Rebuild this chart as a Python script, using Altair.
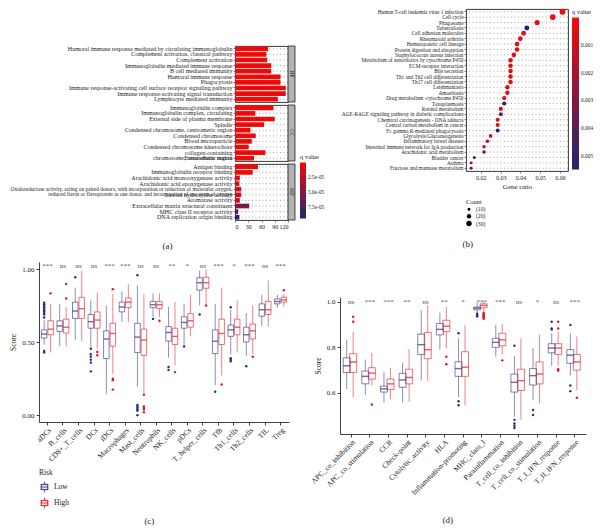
import altair as alt
import pandas as pd

FONT = "Liberation Serif"
LOW_COLOR = "#2c2f7f"
HIGH_COLOR = "#e3161e"
Q_RED, Q_NAVY = "#f50a0a", "#1e2670"
BOX_GLYPH = ("M-0.7,-0.55H0.7V0.55H-0.7Z M-0.56,-0.42V0.42H0.56V-0.42Z "
             "M-0.56,-0.07H0.56V0.07H-0.56Z M-0.05,-1H0.05V-0.55H-0.05Z M-0.05,0.55H0.05V1H-0.05Z")

# ---------------- Panel (a): GO enrichment ----------------
A_BP_TERMS = ["Humoral immune response mediated by circulating immunoglobulin",
              "Complement activation, classical pathway", "Complement activation",
              "Immunoglobulin mediated immune response", "B cell mediated immunity",
              "Humoral immune response", "Phagocytosis",
              "Immune response-activating cell surface receptor signaling pathway",
              "Immune response-activating signal transduction", "Lymphocyte mediated immunity"]
A_BP_COUNT = [75, 71, 73, 82, 82, 103, 103, 115, 115, 97]
A_BP_Q = [2e-9, 3e-9, 4e-9, 1e-8, 1e-8, 2e-8, 3e-8, 1e-9, 1e-9, 5e-8]

A_CC_TERMS = ["Immunoglobulin complex", "Immunoglobulin complex, circulating",
              "External side of plasma membrane", "Spindle",
              "Condensed chromosome, centromeric region", "Condensed chromosome",
              "Blood microparticle", "Condensed chromosome kinetochore",
              "collagen-containing|Extracellular matrix", "chromosome, centromeric region"]
A_CC_COUNT = [87, 46, 90, 66, 35, 47, 38, 31, 69, 43]
A_CC_Q = [1e-9, 2e-8, 3e-8, 4e-7, 6e-7, 8e-7, 9e-7, 1e-6, 1.2e-6, 1.5e-6]

A_MF_TERMS = ["Antigen binding", "Immunoglobulin receptor binding",
              "Arachidonic acid monooxygenase activity", "Arachidonic acid epoxygenase activity",
              "Oxidoreductase activity, acting on paired donors, with incorporation or reduction of molecular oxygen,|reduced flavin or flavoprotein as one donor, and incorporation of one atom of oxygen",
              "Steroid hydroxylase activity", "Aromatase activity",
              "Extracellular matrix structural constituent", "MHC class II receptor activity",
              "DNA replication origin binding"]
A_MF_COUNT = [52, 40, 11, 10, 14, 14, 11, 32, 7, 10]
A_MF_Q = [1e-9, 2e-8, 8.6e-6, 9.8e-6, 1.2e-5, 1.2e-5, 1.5e-5, 5.2e-5, 6.5e-5, 9.2e-5]

A_Q_MAX = 9.5e-5
A_LEGEND_VALUES = [2.5e-5, 5.0e-5, 7.5e-5]
A_X_TICKS = [0, 30, 60, 90, 120]

# ---------------- Panel (b): KEGG dot plot ----------------
B_TERMS = ["Human T-cell leukemia virus 1 infection", "Cell cycle", "Phagosome", "Tuberculosis",
           "Cell adhesion molecules", "Rheumatoid arthritis", "Hematopoietic cell lineage",
           "Protein digestion and absorption", "Staphylococcus aureus infection",
           "Metabolism of xenobiotics by cytochrome P450", "ECM-receptor interaction",
           "Bile secretion", "Th1 and Th2 cell differentiation", "Th17 cell differentiation",
           "Leishmaniasis", "Amoebiasis", "Drug metabolism -cytochrome P450", "Toxoplasmosis",
           "Retinol metabolism", "AGE-RAGE signaling pathway in diabetic complications",
           "Chemical carcinogenesis - DNA adducts", "Central carbon metabolism in cancer",
           "Fc gamma R-mediated phagocytosis", "Glycolysis/Gluconeogenesis",
           "Inflammatory bowel disease", "Intestinal immune network for IgA production",
           "Arachidonic acid metabolism", "Bladder cancer", "Asthma",
           "Fructose and mannose metabolism"]
B_RATIO = [0.0612, 0.0563, 0.0484, 0.0432, 0.0416, 0.0399, 0.0383, 0.0383, 0.0367, 0.0350,
           0.0350, 0.0350, 0.0350, 0.0350, 0.0334, 0.0334, 0.0318, 0.0318, 0.0301, 0.0301,
           0.0285, 0.0285, 0.0285, 0.0249, 0.0233, 0.0216, 0.0216, 0.0167, 0.0151, 0.0151]
B_COUNT = [37, 34, 29, 26, 25, 24, 23, 23, 22, 21, 21, 21, 21, 21, 20, 20, 19, 19, 18, 18,
           17, 17, 17, 15, 14, 13, 13, 10, 9, 9]
B_Q = [0.0001, 0.0001, 0.0002, 0.0054, 0.0002, 0.0002, 0.0002, 0.0003, 0.0003, 0.0004,
       0.0004, 0.0004, 0.0004, 0.0004, 0.0006, 0.0006, 0.0008, 0.0043, 0.0008, 0.0038,
       0.0009, 0.0009, 0.0052, 0.0010, 0.0016, 0.0011, 0.0042, 0.0052, 0.0030, 0.0045]
B_Q_MAX = 0.0055
B_Q_TICKS = [0.001, 0.002, 0.003, 0.004, 0.005]
B_X_TICKS = [0.02, 0.03, 0.04, 0.05, 0.06]
B_COUNT_LEGEND = [10, 20, 30]

# ---------------- Panel (c): immune cells ----------------
C_CATS = ["aDCs", "B_cells", "CD8+_T_cells", "DCs", "iDCs", "Macrophages", "Mast_cells",
          "Neutrophils", "NK_cells", "pDCs", "T_helper_cells", "Tfh", "Th1_cells", "Th2_cells",
          "TIL", "Treg"]
C_SIG = ["***", "ns", "ns", "ns", "***", "***", "ns", "ns", "**", "*", "ns", "***", "*", "***",
         "ns", "***"]
C_LOW_LO = [0.484, 0.473, 0.518, 0.462, 0.143, 0.640, 0.194, 0.674, 0.395, 0.480, 0.752, 0.205, 0.417, 0.406, 0.612, 0.737]
C_LOW_Q1 = [0.529, 0.574, 0.663, 0.596, 0.388, 0.708, 0.430, 0.737, 0.507, 0.596, 0.857, 0.422, 0.540, 0.502, 0.679, 0.763]
C_LOW_MED = [0.556, 0.612, 0.714, 0.641, 0.522, 0.741, 0.535, 0.757, 0.567, 0.636, 0.908, 0.507, 0.585, 0.551, 0.723, 0.779]
C_LOW_Q3 = [0.585, 0.647, 0.775, 0.690, 0.578, 0.775, 0.630, 0.780, 0.607, 0.674, 0.942, 0.585, 0.618, 0.603, 0.763, 0.797]
C_LOW_HI = [0.652, 0.763, 0.875, 0.786, 0.752, 0.848, 0.890, 0.835, 0.741, 0.763, 0.990, 0.763, 0.720, 0.700, 0.826, 0.826]
C_LOW_OUT = [[0.67, 0.69, 0.70, 0.71, 0.72, 0.73, 0.74, 0.75, 0.76, 0.77, 0.44, 0.43], [], [0.946],
             [0.455, 0.417, 0.40, 0.38, 0.36, 0.30], [], [], [0.96, 0.07, 0.06, 0.05, 0.04, 0.03, 0.0],
             [0.66], [0.33, 0.31], [0.47], [0.69], [0.16], [0.74, 0.39, 0.38, 0.37], [0.335], [], []]
C_HIGH_LO = [0.430, 0.473, 0.507, 0.462, 0.283, 0.640, 0.150, 0.674, 0.340, 0.540, 0.763, 0.272, 0.430, 0.420, 0.607, 0.746]
C_HIGH_Q1 = [0.551, 0.563, 0.663, 0.596, 0.473, 0.737, 0.410, 0.730, 0.484, 0.603, 0.870, 0.484, 0.551, 0.522, 0.690, 0.775]
C_HIGH_MED = [0.589, 0.603, 0.730, 0.652, 0.560, 0.775, 0.515, 0.757, 0.540, 0.647, 0.908, 0.560, 0.603, 0.578, 0.723, 0.790]
C_HIGH_Q3 = [0.647, 0.658, 0.808, 0.708, 0.630, 0.804, 0.590, 0.780, 0.596, 0.696, 0.946, 0.658, 0.658, 0.625, 0.780, 0.808]
C_HIGH_HI = [0.763, 0.740, 0.990, 0.840, 0.830, 0.897, 0.830, 0.835, 0.775, 0.826, 1.000, 0.875, 0.786, 0.752, 0.924, 0.830]
C_HIGH_OUT = [[0.835], [0.80, 0.90], [], [0.433, 0.41], [0.864, 0.25, 0.24, 0.175], [],
              [0.14, 0.06, 0.05, 0.04, 0.02], [0.647], [0.295], [], [0.752], [0.21], [], [0.40],
              [], [0.857]]
C_Y_TICKS = [0.0, 0.25, 0.5, 0.75, 1.0]

# ---------------- Panel (d): immune functions ----------------
D_CATS = ["APC_co_inhibition", "APC_co_stimulation", "CCR", "Check-point", "Cytolytic_activity",
          "HLA", "Inflammation-promoting", "MHC_class_I", "Parainflammation",
          "T_cell_co_inhibition", "T_cell_co_stimulation", "T_I_IFN_response", "T_II_IFN_response"]
D_SIG = ["ns", "***", "***", "**", "ns", "**", "*", "***", "***", "ns", "*", "ns", "***"]
D_LOW_LO = [0.617, 0.589, 0.557, 0.557, 0.653, 0.789, 0.581, 0.950, 0.758, 0.495, 0.567, 0.718, 0.675]
D_LOW_Q1 = [0.689, 0.639, 0.603, 0.624, 0.768, 0.854, 0.672, 0.964, 0.799, 0.603, 0.634, 0.775, 0.729]
D_LOW_MED = [0.718, 0.672, 0.617, 0.656, 0.811, 0.878, 0.706, 0.971, 0.821, 0.646, 0.675, 0.796, 0.765]
D_LOW_Q3 = [0.753, 0.695, 0.629, 0.685, 0.857, 0.904, 0.736, 0.976, 0.839, 0.682, 0.706, 0.815, 0.789]
D_LOW_HI = [0.832, 0.746, 0.689, 0.732, 0.961, 0.951, 0.839, 0.997, 0.897, 0.760, 0.796, 0.861, 0.861]
D_LOW_OUT = [[], [], [], [], [], [], [0.861, 0.563, 0.545], [0.947, 0.940, 0.935], [],
             [0.806, 0.481, 0.465, 0.455, 0.445], [0.524, 0.502], [0.911, 0.882, 0.877],
             [0.897, 0.632, 0.607]]
D_HIGH_LO = [0.581, 0.632, 0.571, 0.560, 0.653, 0.796, 0.545, 0.954, 0.768, 0.481, 0.553, 0.718, 0.610]
D_HIGH_Q1 = [0.689, 0.660, 0.614, 0.639, 0.749, 0.868, 0.672, 0.973, 0.806, 0.610, 0.639, 0.768, 0.699]
D_HIGH_MED = [0.735, 0.686, 0.639, 0.667, 0.789, 0.892, 0.712, 0.983, 0.832, 0.653, 0.682, 0.796, 0.735]
D_HIGH_Q3 = [0.771, 0.710, 0.660, 0.703, 0.864, 0.918, 0.780, 0.990, 0.861, 0.703, 0.735, 0.815, 0.768]
D_HIGH_HI = [0.868, 0.775, 0.710, 0.792, 0.983, 0.976, 0.895, 1.000, 0.901, 0.839, 0.854, 0.868, 0.847]
D_HIGH_OUT = [[0.933, 0.911], [0.548], [], [], [], [0.758, 0.725], [],
              [0.950, 0.945, 0.940, 0.935, 0.930, 0.925], [0.742], [], [],
              [0.911, 0.882, 0.703, 0.697], [0.578]]
D_Y_TICKS = [0.6, 0.8, 1.0]

# ---------------- layout constants ----------------
W_A, H_A, STRIP_W = 53, 56, 7
W_B, H_B = 102, 162
W_C, H_C = 250, 160
W_D, H_D = 246, 137


def caption(txt, off=8):
    return alt.TitleParams(txt, orient="bottom", anchor="middle", frame="bounds",
                           fontSize=9, fontWeight="normal", font=FONT, offset=off, color="#222")


def spacer(w, h):
    return alt.Chart(pd.DataFrame({"v": [0]})).mark_point(size=0, opacity=0, strokeWidth=0).encode(
        x=alt.X("v:Q", axis=None), y=alt.Y("v:Q", axis=None)
    ).properties(width=w, height=h, view=alt.ViewBackground(strokeOpacity=0))


def go_block(name, terms, counts, qs, show_x, show_legend):
    df = pd.DataFrame({"term": terms, "count": counts, "q": qs, "facet": name})
    ysc = alt.Scale(paddingInner=0.16, paddingOuter=0.08)
    y = alt.Y("term:N", sort=terms, title=None, scale=ysc,
              axis=alt.Axis(labelFontSize={"condition": {"test": "length(datum.label) > 90", "value": 5.4},
                                           "value": 6.0},
                            labelLimit=0, tickSize=2, domain=False,
                            labelPadding=1, grid=False, labelLineHeight=5,
                            labelExpr="split(datum.label, '|')", labelColor="#222",
                            tickColor="#333", tickWidth=0.6))
    if show_x:
        xax = alt.Axis(values=A_X_TICKS, labelFontSize=6, tickSize=2, domain=False, grid=False,
                       labelPadding=1, labelColor="#222", tickColor="#333", tickWidth=0.6)
    else:
        xax = None
    x = alt.X("count:Q", title=None, scale=alt.Scale(domain=[0, 120], nice=False), axis=xax)
    leg = None
    if show_legend:
        leg = alt.Legend(title="q value", orient="none", legendX=W_A + STRIP_W + 5, legendY=-10,
                         gradientLength=56, gradientThickness=6, values=A_LEGEND_VALUES,
                         labelExpr="replace(format(datum.value, '.1e'), 'e-', 'e-0')",
                         labelFontSize=5.4, titleFontSize=6.5, titleFontWeight="normal",
                         titlePadding=2, labelOffset=2, padding=0)
    # descending domain so that the colour bar runs red (small q) at the top to navy at the bottom
    color = alt.Color("q:Q", scale=alt.Scale(domain=[A_Q_MAX, 0], range=[Q_NAVY, Q_RED],
                                             interpolate="rgb", nice=False), legend=leg)
    bars = alt.Chart(df).mark_bar().encode(x=x, y=y, color=color)
    dots = alt.Chart(df).mark_rule(strokeDash=[1, 2.5], strokeWidth=0.7, color="#222",
                                   opacity=0.6).encode(y=alt.Y("term:N", sort=terms, title=None))
    strip = alt.Chart(df.head(1)).mark_rect(fill="#b3b3b3", stroke="#222", strokeWidth=0.8).encode(
        x=alt.value(W_A), x2=alt.value(W_A + STRIP_W), y=alt.value(0), y2=alt.value(H_A))
    lab = alt.Chart(df.head(1)).mark_text(angle=90, fontSize=5.5, font=FONT, color="#222").encode(
        x=alt.value(W_A + STRIP_W / 2), y=alt.value(H_A / 2), text="facet:N")
    return alt.layer(bars, dots, strip, lab).properties(
        width=W_A, height=H_A, view=alt.ViewBackground(stroke="#222", strokeWidth=0.9))


# "flush" bounds: the three facet panels sit exactly 3 px apart whatever their labels/legend do
panel_a = alt.vconcat(
    spacer(W_A, 34),
    go_block("BP", A_BP_TERMS, A_BP_COUNT, A_BP_Q, False, False),
    go_block("CC", A_CC_TERMS, A_CC_COUNT, A_CC_Q, False, False),
    go_block("MF", A_MF_TERMS, A_MF_COUNT, A_MF_Q, True, True),
    spacing=3, bounds="flush",
).resolve_scale(color="independent").properties(title=caption("(a)", 13))

# ---- panel (b)
df_b = pd.DataFrame({"term": B_TERMS, "ratio": B_RATIO, "count": B_COUNT, "q": B_Q})
b_y = alt.Y("term:N", sort=B_TERMS, title=None,
            axis=alt.Axis(labelFontSize=5.3, labelLimit=0, tickSize=2, domain=False, grid=False,
                          labelPadding=1, labelColor="#222", tickColor="#333", tickWidth=0.6))
b_rules = alt.Chart(df_b).mark_rule(strokeDash=[1, 2.5], strokeWidth=0.7, color="#222",
                                    opacity=0.55).encode(y=b_y)
b_pts = alt.Chart(df_b).mark_circle(opacity=1).encode(
    x=alt.X("ratio:Q", title="Gene ratio", scale=alt.Scale(domain=[0.0125, 0.064], nice=False, zero=False),
            axis=alt.Axis(values=B_X_TICKS, format=".2f", labelFontSize=6, tickSize=2, domain=False,
                          grid=False, labelPadding=1, titleFontSize=7, titleFontWeight="normal",
                          titlePadding=2, labelColor="#222", titleColor="#222", tickColor="#333",
                          tickWidth=0.6)),
    y=b_y,
    color=alt.Color("q:Q", scale=alt.Scale(domain=[B_Q_MAX, 0], range=[Q_NAVY, Q_RED],
                                           interpolate="rgb", nice=False),
                    legend=alt.Legend(title="q value", orient="right", offset=4, gradientLength=152,
                                      gradientThickness=7, values=B_Q_TICKS, format=".3f",
                                      labelFontSize=5.4, titleFontSize=6.5, titleFontWeight="normal",
                                      titlePadding=2, labelOffset=2)),
    size=alt.Size("count:Q", scale=alt.Scale(domain=[0, 40], range=[0, 38]),
                  legend=alt.Legend(title="Count", orient="bottom", direction="vertical",
                                    values=B_COUNT_LEGEND, labelExpr="'(' + datum.label + ')'",
                                    symbolFillColor="black", symbolStrokeWidth=0, labelFontSize=5.6,
                                    titleFontSize=6.5, titleFontWeight="normal", titlePadding=1,
                                    rowPadding=0, offset=10, padding=0)),
)
panel_b = alt.layer(b_rules, b_pts).properties(
    width=W_B, height=H_B, view=alt.ViewBackground(stroke="#222", strokeWidth=0.9),
    title=caption("(b)", 12))


# ---- box plot helpers
def box_frames(cats, low, high, low_out, high_out):
    rows, orows = [], []
    for risk, st, outs in (("Low", low, low_out), ("High", high, high_out)):
        lo, q1, med, q3, hi = st
        for i, c in enumerate(cats):
            rows.append(dict(cat=c, Risk=risk, lo=lo[i], q1=q1[i], med=med[i], q3=q3[i], hi=hi[i]))
            for v in outs[i]:
                orows.append(dict(cat=c, Risk=risk, val=v))
    return pd.DataFrame(rows), pd.DataFrame(orows)


def box_chart(cats, sig, low, high, low_out, high_out, w, h, ydom, yticks, yfmt, box_w,
              sig_y, pad_outer, show_legend):
    df, dfo = box_frames(cats, low, high, low_out, high_out)
    dfs = pd.DataFrame({"cat": cats, "sig": sig})
    x = alt.X("cat:N", sort=cats, title=None,
              scale=alt.Scale(paddingInner=0.2, paddingOuter=pad_outer),
              axis=alt.Axis(labelAngle=-45, labelFontSize=7.5, tickSize=3, labelPadding=1,
                            domainColor="#111", tickColor="#111", labelColor="#222",
                            domainWidth=0.8, tickWidth=0.8))
    xo = alt.XOffset("Risk:N", sort=["Low", "High"], scale=alt.Scale(paddingInner=0.08))
    ysc = alt.Scale(domain=ydom, nice=False, zero=False)
    yax = alt.Axis(values=yticks, format=yfmt, labelFontSize=7, tickSize=3, grid=False,
                   domainColor="#111", tickColor="#111", labelColor="#222", titleColor="#222",
                   titleFontSize=7.5, titleFontWeight="normal", domainWidth=0.8, tickWidth=0.8,
                   labelPadding=2, titlePadding=4)
    risk_scale = alt.Scale(domain=["Low", "High"], range=[LOW_COLOR, HIGH_COLOR])
    leg = None
    if show_legend:
        leg = alt.Legend(title="Risk", orient="bottom", direction="vertical", symbolType=BOX_GLYPH,
                         symbolSize=110, symbolStrokeWidth=0.3,
                         labelFontSize=7.5, titleFontSize=7.5, titleFontWeight="normal",
                         rowPadding=3, offset=6, padding=0, labelOffset=4)
    col = alt.Color("Risk:N", scale=risk_scale, legend=leg)
    base = alt.Chart(df)
    box = base.mark_bar(filled=False, size=box_w, strokeWidth=1, strokeOpacity=0.6).encode(
        x=x, xOffset=xo, y=alt.Y("q1:Q", scale=ysc, axis=yax, title="Score"), y2="q3:Q", color=col)
    w_lo = base.mark_rule(strokeWidth=0.9, opacity=0.6).encode(
        x=x, xOffset=xo, y=alt.Y("lo:Q", scale=ysc, title="Score"), y2="q1:Q", color=col)
    w_hi = base.mark_rule(strokeWidth=0.9, opacity=0.6).encode(
        x=x, xOffset=xo, y=alt.Y("q3:Q", scale=ysc, title="Score"), y2="hi:Q", color=col)
    med = base.mark_tick(size=box_w, thickness=1.4).encode(
        x=x, xOffset=xo, y=alt.Y("med:Q", scale=ysc, title="Score"), color=col)
    out = alt.Chart(dfo).mark_circle(size=6, opacity=1).encode(
        x=x, xOffset=xo, y=alt.Y("val:Q", scale=ysc, title="Score"), color=col)
    txt = alt.Chart(dfs).mark_text(fontSize=7, font=FONT, color="#555", baseline="middle").encode(
        x=x, y=alt.datum(sig_y), text="sig:N")
    return alt.layer(box, w_lo, w_hi, med, out, txt).properties(width=w, height=h)


panel_c = box_chart(C_CATS, C_SIG, (C_LOW_LO, C_LOW_Q1, C_LOW_MED, C_LOW_Q3, C_LOW_HI),
                    (C_HIGH_LO, C_HIGH_Q1, C_HIGH_MED, C_HIGH_Q3, C_HIGH_HI),
                    C_LOW_OUT, C_HIGH_OUT, W_C, H_C, [-0.047, 1.05], C_Y_TICKS, ".2f", 5.5,
                    1.025, 0.14, True).properties(title=caption("(c)", 8))

d_chart = box_chart(D_CATS, D_SIG, (D_LOW_LO, D_LOW_Q1, D_LOW_MED, D_LOW_Q3, D_LOW_HI),
                    (D_HIGH_LO, D_HIGH_Q1, D_HIGH_MED, D_HIGH_Q3, D_HIGH_HI),
                    D_LOW_OUT, D_HIGH_OUT, W_D, H_D, [0.419, 1.02], D_Y_TICKS, ".1f", 7,
                    1.0, 0.2, False)
panel_d = alt.vconcat(spacer(W_D, 35), d_chart, spacing=0).properties(title=caption("(d)", 20))

# a blank first column keeps each row's left edge at its labels, not its plot origin
top = alt.hconcat(
    spacer(1, 1),
    alt.hconcat(panel_a, panel_b, spacing=14).resolve_scale(color="independent", size="independent"),
    spacing=0,
).resolve_scale(color="independent", size="independent")
bottom = alt.hconcat(
    spacer(1, 1),
    alt.hconcat(panel_c, panel_d, spacing=20).resolve_scale(color="independent"),
    spacing=0,
).resolve_scale(color="independent")

chart = alt.vconcat(top, bottom, spacing=9).resolve_scale(
    color="independent", size="independent"
).properties(padding=0, background="white").configure(font=FONT).configure_view(
    strokeWidth=0
).configure_axis(labelFont=FONT, titleFont=FONT).configure_legend(
    labelFont=FONT, titleFont=FONT, labelColor="#222", titleColor="#222"
).configure_title(font=FONT)

chart.save("out.html", embed_options={"renderer": "svg", "actions": False})
